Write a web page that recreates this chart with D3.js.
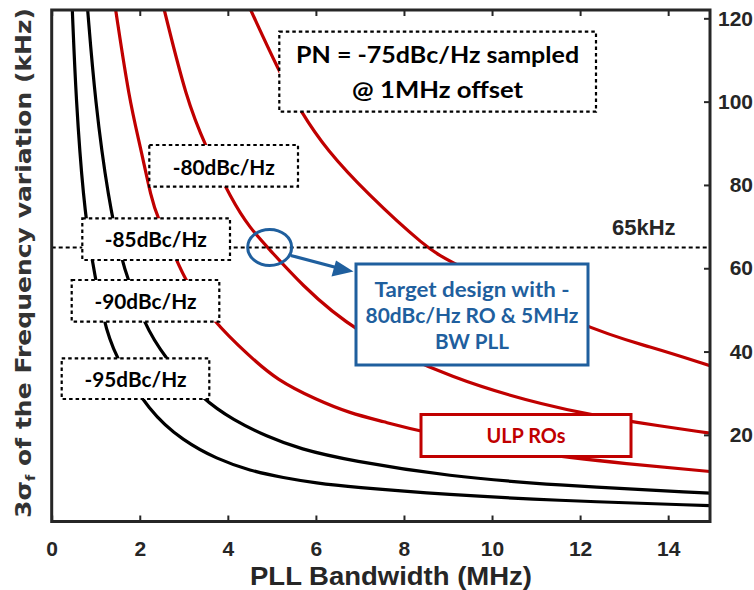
<!DOCTYPE html>
<html>
<head>
<meta charset="utf-8">
<script src="https://cdn.jsdelivr.net/npm/d3@7"></script>
<style>
  body { margin: 0; background: #fff; }
  svg { display: block; }
</style>
</head>
<body>
<svg id="chart" width="754" height="590"></svg>
<script>
// Axis ticks
const xTicks = [0, 2, 4, 6, 8, 10, 12, 14];
const yTicks = [20, 40, 60, 80, 100, 120];

// 3-sigma frequency variation (kHz) vs PLL bandwidth (MHz), one curve per RO phase noise
const curvePN95 = [[0.468,122],[0.552,100.4],[0.718,76.4],[0.908,62.0],[1.188,47.2],[1.399,39.6],[2.234,25.2],[2.984,18.6],[3.747,14.2],[4.503,11.4],[5.26,9.7],[6.02,8.4],[6.774,7.5],[9.04,5.6],[11.3,4.3],[14.95,3.0]];
const curvePN90 = [[0.817,122],[0.983,100.4],[1.285,76.4],[1.589,62.0],[1.739,57.2],[2.08,47.2],[2.534,38.8],[3.442,28.4],[4.123,23.6],[4.882,19.6],[5.638,16.6],[6.773,13.8],[9.044,10.0],[11.32,8.0],[14.95,6.0]];
const curvePN85 = [[1.453,122],[1.762,100.4],[2.005,89.6],[2.271,76.4],[2.398,72.4],[2.838,62.0],[3.027,57.2],[3.669,47.2],[4.503,38.8],[5.109,33.2],[6.017,28.4],[6.774,25.2],[7.529,23.2],[8.363,20.8],[10.86,15.5],[13.13,13.0],[14.95,11.2]];
const curvePN80 = [[2.557,122],[3.065,100.4],[3.481,89.6],[4.087,76.4],[4.503,69.6],[4.957,64.4],[5.638,56.4],[6.848,44.8],[9.119,33.2],[11.32,26.8],[12.29,24.8],[13.13,23.2],[14.95,20.4]];
const curvePN75 = [[4.52,122],[5.145,107.6],[5.677,97.2],[6.244,88.4],[7.153,78.0],[8.515,64.8],[9.044,61.5],[12.22,45.1],[13.59,41.2],[14.95,36.6]];

const curveColors = ["#000000", "#000000", "#c00000", "#c00000", "#c00000"];

// Design target
const targetBW = 4.95;
const targetSigma = 65;
const limitLabel = "65kHz";

const svg = d3.select("#chart");
const axisColor = "#262626";
const blue = "#1f5f9e";
const red = "#c00000";

const x = d3.scaleLinear().domain([0, 14.95]).range([51.7, 710]);
const y = d3.scaleLinear().domain([-0.8, 122]).range([521.5, 10]);

svg.append("defs").append("clipPath").attr("id", "plotClip")
  .append("rect")
  .attr("x", x(0)).attr("y", y(122))
  .attr("width", x(14.95) - x(0)).attr("height", y(-0.8) - y(122));

// Curves
const line = d3.line().x(d => x(d[0])).y(d => y(d[1])).curve(d3.curveBasis);
const curves = [curvePN95, curvePN90, curvePN85, curvePN80, curvePN75];
svg.append("g").attr("clip-path", "url(#plotClip)")
  .selectAll("path").data(curves).join("path")
  .attr("d", line)
  .attr("fill", "none")
  .attr("stroke", (d, i) => curveColors[i])
  .attr("stroke-width", 3.2)
  .attr("stroke-linecap", "round");

// 65 kHz limit
svg.append("line")
  .attr("x1", x(0)).attr("x2", x(14.95))
  .attr("y1", y(targetSigma)).attr("y2", y(targetSigma))
  .attr("stroke", "#000").attr("stroke-width", 2)
  .attr("stroke-dasharray", "4,3");
svg.append("text")
  .attr("x", 612).attr("y", 235)
  .attr("font-family", "Liberation Sans, Arial, sans-serif")
  .attr("font-weight", "bold").attr("font-size", 22)
  .attr("fill", axisColor)
  .text(limitLabel);

// Axes
const gBottom = svg.append("g").attr("transform", `translate(0,${y(-0.8)})`)
  .call(d3.axisBottom(x).tickValues(xTicks).tickSizeInner(-6).tickSizeOuter(0).tickPadding(19.5));
const gTop = svg.append("g").attr("transform", `translate(0,${y(122)})`)
  .call(d3.axisTop(x).tickValues(xTicks).tickSizeInner(-6).tickSizeOuter(0).tickFormat(""));
const gRight = svg.append("g").attr("transform", `translate(${x(14.95)},0)`)
  .call(d3.axisRight(y).tickValues(yTicks).tickSizeInner(-6).tickSizeOuter(0));
gRight.selectAll(".tick text").attr("x", 43).attr("text-anchor", "end");

[gBottom, gTop, gRight].forEach(g => {
  g.select(".domain").remove();
  g.selectAll(".tick line").attr("stroke", axisColor).attr("stroke-width", 2);
  g.selectAll(".tick text")
    .attr("fill", axisColor)
    .attr("font-family", "Liberation Sans, Arial, sans-serif")
    .attr("font-weight", "bold")
    .attr("font-size", 21);
});

// Plot frame
svg.append("rect")
  .attr("x", x(0)).attr("y", y(122))
  .attr("width", x(14.95) - x(0)).attr("height", y(-0.8) - y(122))
  .attr("fill", "none").attr("stroke", axisColor).attr("stroke-width", 3);

// Axis titles
svg.append("text")
  .attr("x", 391).attr("y", 585)
  .attr("text-anchor", "middle")
  .attr("font-family", "Liberation Sans, Arial, sans-serif")
  .attr("font-weight", "bold").attr("font-size", 26)
  .attr("fill", axisColor)
  .attr("textLength", 282).attr("lengthAdjust", "spacingAndGlyphs")
  .text("PLL Bandwidth (MHz)");

const yTitle = svg.append("text")
  .attr("transform", "translate(31,263) rotate(-90)")
  .attr("text-anchor", "middle")
  .attr("font-family", "DejaVu Sans, sans-serif")
  .attr("font-weight", "bold").attr("font-size", 22)
  .attr("fill", "#333")
  .attr("textLength", 510).attr("lengthAdjust", "spacingAndGlyphs");
yTitle.append("tspan").text("3σ");
yTitle.append("tspan").attr("font-size", 13).attr("dy", 4).text("f");
yTitle.append("tspan").attr("dy", -4).text(" of the Frequency variation (kHz)");

// Text font for annotations
const noteFont = "Lato, 'Open Sans', sans-serif";

function dashedLabel(x0, y0, x1, y1, lines) {
  svg.append("rect")
    .attr("x", x0).attr("y", y0).attr("width", x1 - x0).attr("height", y1 - y0)
    .attr("fill", "#fff").attr("stroke", "#000").attr("stroke-width", 2.2)
    .attr("stroke-dasharray", "3.5,3");
  lines.forEach(l => {
    svg.append("text")
      .attr("x", l.cx).attr("y", l.base)
      .attr("text-anchor", "middle")
      .attr("font-family", noteFont).attr("font-weight", "bold")
      .attr("font-size", l.size).attr("fill", "#000")
      .attr("textLength", l.w).attr("lengthAdjust", "spacingAndGlyphs")
      .text(l.t);
  });
}

dashedLabel(279.3, 31.7, 596, 111.7, [
  { t: "PN = -75dBc/Hz sampled", cx: 437.6, base: 63.3, size: 23, w: 283 },
  { t: "@ 1MHz offset", cx: 437.6, base: 98.3, size: 23, w: 171 }
]);
dashedLabel(149.3, 145, 298, 186.7, [{ t: "-80dBc/Hz", cx: 223.7, base: 175, size: 20, w: 102 }]);
dashedLabel(82.3, 218.3, 230, 260, [{ t: "-85dBc/Hz", cx: 155.8, base: 246.7, size: 20, w: 102 }]);
dashedLabel(71.7, 280, 219.3, 321.7, [{ t: "-90dBc/Hz", cx: 145.5, base: 309.3, size: 20, w: 102 }]);
dashedLabel(61.7, 358.3, 209.3, 399, [{ t: "-95dBc/Hz", cx: 135.5, base: 386.7, size: 20, w: 102 }]);

// ULP RO callout
svg.append("rect")
  .attr("x", 421).attr("y", 414.5).attr("width", 210).attr("height", 42)
  .attr("fill", "#fff").attr("stroke", red).attr("stroke-width", 3);
svg.append("text")
  .attr("x", 526).attr("y", 443.3).attr("text-anchor", "middle")
  .attr("font-family", noteFont).attr("font-weight", "bold")
  .attr("font-size", 20).attr("fill", red)
  .attr("textLength", 79).attr("lengthAdjust", "spacingAndGlyphs")
  .text("ULP ROs");

// Target marker and callout
const cx = x(targetBW), cy = y(targetSigma);
svg.append("ellipse")
  .attr("cx", cx).attr("cy", cy).attr("rx", 22).attr("ry", 18)
  .attr("fill", "none").attr("stroke", blue).attr("stroke-width", 3);
svg.append("line")
  .attr("x1", cx + 21).attr("y1", cy + 8)
  .attr("x2", 340).attr("y2", 268.5)
  .attr("stroke", blue).attr("stroke-width", 3.2);
svg.append("path")
  .attr("d", "M353.5,271.5 L336,260.5 L331.5,276.5 Z")
  .attr("fill", blue);
svg.append("rect")
  .attr("x", 356).attr("y", 264).attr("width", 232).attr("height", 101)
  .attr("fill", "#fff").attr("stroke", blue).attr("stroke-width", 3);
[
  { t: "Target design with -", base: 296.7, w: 195 },
  { t: "80dBc/Hz RO & 5MHz", base: 322.7, w: 213 },
  { t: "BW PLL", base: 348.5, w: 74 }
].forEach(l => {
  svg.append("text")
    .attr("x", 472).attr("y", l.base).attr("text-anchor", "middle")
    .attr("font-family", noteFont).attr("font-weight", "bold")
    .attr("font-size", 21).attr("fill", blue)
    .attr("textLength", l.w).attr("lengthAdjust", "spacingAndGlyphs")
    .text(l.t);
});
</script>
</body>
</html>
